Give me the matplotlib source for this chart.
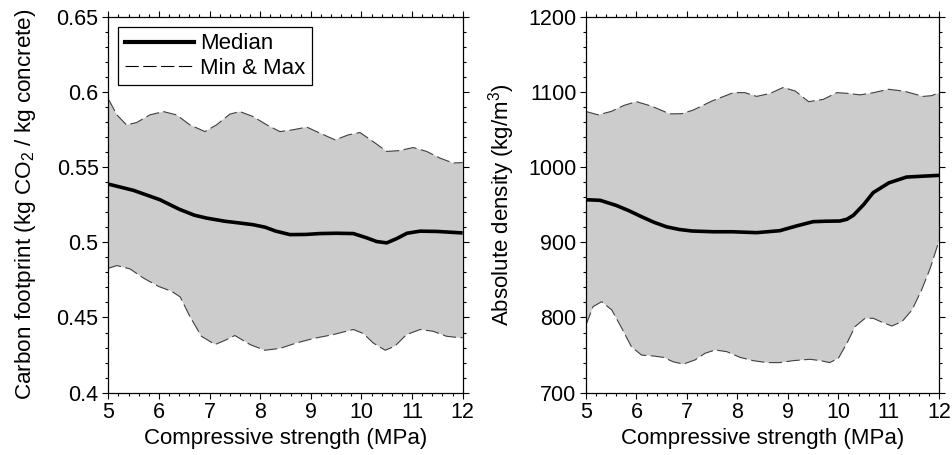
import numpy as np
import matplotlib.pyplot as plt
from matplotlib.ticker import MultipleLocator

# ---------------- DATA ----------------
# left panel: carbon footprint (kg CO2 / kg concrete)
cf_max_x = [5.0, 5.02, 5.17, 5.36, 5.56, 5.82, 6.09, 6.35, 6.61, 6.91, 7.14, 7.40, 7.60, 7.86, 8.13, 8.39, 8.65, 8.92, 9.18, 9.48, 9.74, 9.97, 10.23, 10.50, 10.76, 11.02, 11.29, 11.55, 11.81, 12.0]
cf_max_y = [0.5950, 0.5942, 0.5847, 0.5781, 0.5796, 0.5847, 0.5869, 0.5847, 0.5781, 0.5736, 0.5781, 0.5852, 0.5869, 0.5836, 0.5781, 0.5736, 0.5748, 0.5766, 0.5726, 0.5681, 0.5714, 0.5730, 0.5670, 0.5604, 0.5610, 0.5630, 0.5604, 0.5560, 0.5527, 0.5530]

cf_med_x = [5.0, 5.5, 6.02, 6.4, 6.7, 6.94, 7.3, 7.6, 7.86, 8.1, 8.3, 8.59, 8.9, 9.18, 9.5, 9.84, 10.1, 10.3, 10.5, 10.7, 10.9, 11.16, 11.5, 12.0]
cf_med_y = [0.5387, 0.5345, 0.5283, 0.5220, 0.5180, 0.5161, 0.5140, 0.5128, 0.5117, 0.5100, 0.5075, 0.5051, 0.5052, 0.5058, 0.5060, 0.5058, 0.5030, 0.5005, 0.4996, 0.5025, 0.5060, 0.5074, 0.5072, 0.5062]

cf_min_x = [5.0, 5.02, 5.17, 5.43, 5.69, 5.99, 6.25, 6.42, 6.61, 6.84, 7.11, 7.30, 7.50, 7.80, 8.09, 8.39, 8.72, 9.05, 9.44, 9.84, 10.04, 10.23, 10.47, 10.66, 10.89, 11.16, 11.42, 11.68, 11.95, 12.0]
cf_min_y = [0.4825, 0.4829, 0.4845, 0.4823, 0.4763, 0.4707, 0.4674, 0.4637, 0.4508, 0.4375, 0.4320, 0.4347, 0.4380, 0.4320, 0.4282, 0.4294, 0.4331, 0.4360, 0.4386, 0.4420, 0.4393, 0.4331, 0.4282, 0.4309, 0.4386, 0.4420, 0.4408, 0.4375, 0.4365, 0.4366]

# right panel: absolute density (kg/m3)
rho_max_x = [5.0, 5.24, 5.5, 5.75, 6.0, 6.3, 6.66, 6.9, 7.13, 7.5, 7.92, 8.15, 8.38, 8.65, 8.91, 9.15, 9.41, 9.7, 9.97, 10.2, 10.43, 10.7, 10.99, 11.3, 11.68, 11.85, 12.0]
rho_max_y = [1073.9, 1069.5, 1074, 1082, 1087, 1081, 1070.8, 1071, 1076, 1088, 1099, 1099, 1094, 1098, 1106, 1101, 1087, 1090, 1099, 1098, 1096, 1099, 1103.5, 1101, 1094, 1095, 1099]

rho_med_x = [5.0, 5.28, 5.6, 5.85, 6.1, 6.35, 6.6, 6.85, 7.1, 7.52, 7.9, 8.38, 8.84, 9.17, 9.50, 9.75, 10.03, 10.17, 10.3, 10.5, 10.69, 11.0, 11.35, 11.7, 12.0]
rho_med_y = [956.6, 955.8, 949, 942, 934, 926.5, 920.5, 917, 915, 914, 914, 912.8, 915.4, 921.7, 927.4, 928, 928.3, 930.6, 936, 950, 966, 979, 986.7, 988, 989]

rho_min_x = [5.0, 5.14, 5.31, 5.51, 5.71, 5.90, 6.10, 6.33, 6.53, 6.73, 6.93, 7.16, 7.36, 7.56, 7.79, 8.05, 8.31, 8.58, 8.84, 9.11, 9.44, 9.64, 9.83, 10.0, 10.17, 10.33, 10.53, 10.69, 10.89, 11.06, 11.26, 11.46, 11.65, 11.82, 11.98, 12.0]
rho_min_y = [790.0, 814.4, 821, 810, 785.6, 761, 750, 748.8, 747, 741, 738, 743.5, 752.4, 756.8, 754.5, 747, 742.6, 740, 740, 742.6, 744.4, 742.6, 740, 745.7, 765.7, 787.8, 798.9, 798.9, 793, 788.7, 794.4, 810, 836.6, 865.4, 898.7, 902]

XLABEL = "Compressive strength (MPa)"
FS = 15.5
FL = 16
DASH = (0, (12, 4))


def style_axes(ax, ymin, ymax, ymajor, yminor):
    ax.set_xlim(5, 12)
    ax.set_ylim(ymin, ymax)
    ax.xaxis.set_major_locator(MultipleLocator(1))
    ax.xaxis.set_minor_locator(MultipleLocator(0.2))
    ax.yaxis.set_major_locator(MultipleLocator(ymajor))
    ax.yaxis.set_minor_locator(MultipleLocator(yminor))
    ax.tick_params(which="both", direction="out", top=True, right=True,
                   labeltop=False, labelright=False, width=0.8)
    ax.tick_params(which="major", length=4, labelsize=FS, pad=3)
    ax.tick_params(which="minor", length=2)
    for s in ax.spines.values():
        s.set_linewidth(0.9)
    ax.set_xlabel(XLABEL, fontsize=FL, labelpad=3)


def draw_band(ax, xmax, ymax, xmed, ymed, xmin, ymin):
    # fill between min & max curves (they are read at different x's)
    poly_x = list(xmax) + list(xmin)[::-1]
    poly_y = list(ymax) + list(ymin)[::-1]
    ax.fill(poly_x, poly_y, color="#cccccc", lw=0, zorder=1)
    ax.plot(xmax, ymax, color="#404040", lw=0.8, ls=DASH, zorder=2)
    ax.plot(xmin, ymin, color="#404040", lw=0.8, ls=DASH, zorder=2)
    ax.plot(xmed, ymed, color="black", lw=2.6, zorder=3, solid_capstyle="butt")


plt.rcParams["font.family"] = ["Liberation Sans", "DejaVu Sans"]
plt.rcParams["mathtext.fontset"] = "custom"
plt.rcParams["mathtext.rm"] = "Liberation Sans"
plt.rcParams["mathtext.it"] = "Liberation Sans:italic"

fig = plt.figure(figsize=(9.53, 4.55), dpi=100)
ax1 = fig.add_axes([0.1136, 0.137, 0.3719, 0.8263])
ax2 = fig.add_axes([0.6149, 0.137, 0.3707, 0.8263])

draw_band(ax1, cf_max_x, cf_max_y, cf_med_x, cf_med_y, cf_min_x, cf_min_y)
style_axes(ax1, 0.4, 0.65, 0.05, 0.01)
ax1.set_yticks([0.4, 0.45, 0.5, 0.55, 0.6, 0.65])
ax1.set_yticklabels(["0.4", "0.45", "0.5", "0.55", "0.6", "0.65"])
ax1.set_ylabel(r"Carbon footprint (kg CO$_\mathrm{2}$ / kg concrete)", fontsize=16.2, labelpad=13)

# legend drawn with proxy lines
ax1.plot([], [], color="black", lw=3, label="Median")
ax1.plot([], [], color="black", lw=0.8, ls=DASH, label="Min & Max")
leg = ax1.legend(loc="upper left", fontsize=FL, frameon=True, fancybox=False,
                 edgecolor="black", framealpha=1, borderpad=0.3, handlelength=3.1,
                 handletextpad=0.3, labelspacing=0.15, borderaxespad=0.45)
leg.get_frame().set_linewidth(0.9)

draw_band(ax2, rho_max_x, rho_max_y, rho_med_x, rho_med_y, rho_min_x, rho_min_y)
style_axes(ax2, 700, 1200, 100, 20)
ax2.set_ylabel(r"Absolute density (kg/m$^\mathrm{3}$)", fontsize=FL, labelpad=8)

fig.savefig("out.png", dpi=100)
